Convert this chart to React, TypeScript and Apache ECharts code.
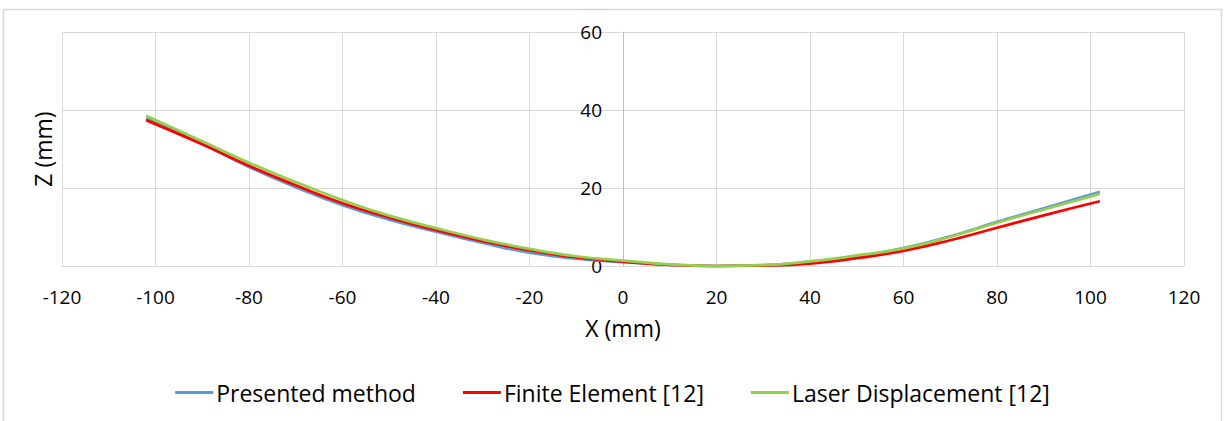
import React, { useEffect, useRef } from "react";
import * as echarts from "echarts";

const xValues = [-102, -90, -80, -70, -60, -50, -40, -30, -20, -10, 0, 10, 20, 30, 40, 50, 60, 70, 80, 90, 102];
const presented = [37.9, 31.3, 25.4, 20.2, 15.6, 11.9, 8.8, 5.9, 3.4, 1.9, 1.0, 0.3, 0.0, 0.2, 1.1, 2.5, 4.6, 7.6, 11.3, 14.8, 19.0];
const finiteElement = [37.4, 31.2, 25.7, 20.7, 16.1, 12.4, 9.2, 6.4, 4.0, 2.2, 1.1, 0.3, 0.0, 0.1, 0.6, 2.0, 3.9, 6.6, 9.8, 13.0, 16.6];
const laser = [38.5, 32.0, 26.5, 21.5, 16.9, 12.9, 9.7, 6.8, 4.4, 2.5, 1.4, 0.4, 0.0, 0.2, 1.2, 2.7, 4.5, 7.5, 11.1, 14.5, 18.5];

const seriesNames = ["Presented method", "Finite Element [12]", "Laser Displacement [12]"];
const seriesColors = ["#5B9BD5", "#FF0000", "#92D050"];
const seriesData = [presented, finiteElement, laser];

const FONT = "'Open Sans', sans-serif";

export default function App() {
  const ref = useRef<HTMLDivElement>(null);
  useEffect(() => {
    if (!ref.current) return;
    const chart = echarts.init(ref.current, undefined, { renderer: "svg" });
    chart.setOption({
      animation: false,
      backgroundColor: "#ffffff",
      textStyle: { fontFamily: FONT },
      grid: { left: 62, right: 41, top: 32, bottom: 155, containLabel: false },
      xAxis: {
        type: "value",
        min: -120,
        max: 120,
        interval: 20,
        axisLine: { show: true, lineStyle: { color: "#d9d9d9", width: 1 } },
        axisTick: { show: false },
        splitLine: { show: true, lineStyle: { color: "#d9d9d9", width: 1 } },
        axisLabel: { color: "#000", fontSize: 19, fontFamily: FONT, margin: 21 },
        name: "X (mm)",
        nameLocation: "middle",
        nameGap: 50,
        nameTextStyle: { color: "#000", fontSize: 23, fontFamily: FONT },
      },
      yAxis: [
        {
          type: "value",
          min: 0,
          max: 60,
          interval: 20,
          offset: -561,
          axisLine: { show: true, onZero: false, lineStyle: { color: "#bfbfbf", width: 1 } },
          axisTick: { show: false },
          splitLine: { show: true, lineStyle: { color: "#d9d9d9", width: 1 } },
          axisLabel: { color: "#000", fontSize: 19, fontFamily: FONT, margin: 21 },
        },
        {
          type: "value",
          position: "left",
          min: 0,
          max: 60,
          interval: 20,
          axisLine: { show: false, onZero: false },
          axisTick: { show: false },
          splitLine: { show: false },
          axisLabel: { show: false },
          name: "Z (mm)",
          nameLocation: "middle",
          nameRotate: 90,
          nameGap: 8,
          nameTextStyle: { color: "#000", fontSize: 23, fontFamily: FONT },
        },
      ],
      legend: {
        bottom: 12,
        left: "center",
        itemWidth: 38,
        itemHeight: 3,
        itemGap: 47,
        icon: "rect",
        textStyle: { color: "#000", fontSize: 23, fontFamily: FONT, padding: [0, 0, 0, -2] },
        data: seriesNames,
      },
      graphic: [
        {
          type: "rect",
          shape: { x: 3.5, y: 9.5, width: 1218, height: 440 },
          style: { fill: "none", stroke: "#d9d9d9", lineWidth: 1.5 },
          silent: true,
          z: -1,
        },
      ],
      series: seriesNames.map((name, i) => ({
        name,
        type: "line",
        yAxisIndex: 0,
        smooth: true,
        showSymbol: false,
        symbol: "none",
        data: xValues.map((x, j) => [x, seriesData[i][j]]),
        lineStyle: { color: seriesColors[i], width: 2.75 },
        itemStyle: { color: seriesColors[i] },
      })),
    });
    return () => chart.dispose();
  }, []);
  return <div ref={ref} style={{ position: "absolute", left: 0, top: 0, width: 1225, height: 421 }} />;
}
